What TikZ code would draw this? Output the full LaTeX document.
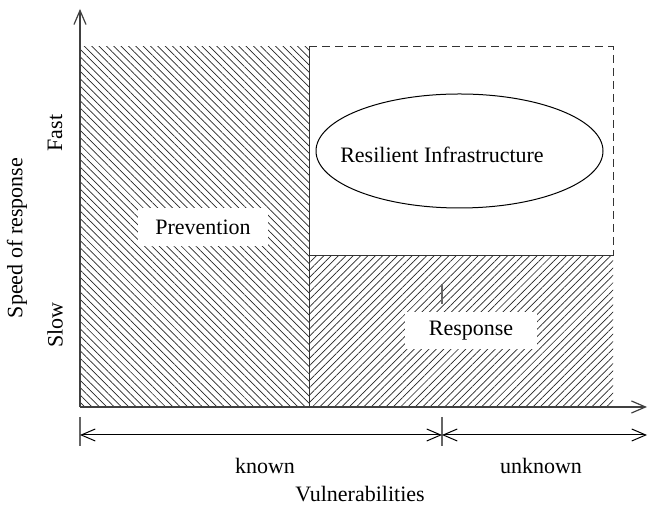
\documentclass[tikz,border=0pt]{standalone}
\usepackage{fontspec}
\setmainfont{Liberation Serif}
\usetikzlibrary{patterns.meta,arrows.meta,shapes.geometric}
\begin{document}
\begin{tikzpicture}[x=0.5pt,y=-0.5pt,
  font=\fontsize{11}{13}\selectfont,
  tip/.style={{Straight Barb[length=7pt,width=6pt]}},
  axis/.style={line width=0.6pt, draw=black!75, -{Straight Barb[length=7pt,width=6pt]}},
  dimline/.style={line width=0.5pt, {Straight Barb[length=7pt,width=6pt]}-{Straight Barb[length=7pt,width=6pt]}},
  tick/.style={line width=0.6pt, draw=black!60},
  edge/.style={line width=0.5pt, draw=black!80},
  hatchnw/.style={pattern={Lines[angle=-45,distance=2.6pt,line width=0.35pt]}, pattern color=black!85},
  hatchne/.style={pattern={Lines[angle=45,distance=2.6pt,line width=0.35pt]}, pattern color=black!85},
  labelbox/.style={fill=white, inner sep=0pt},
  lbl/.style={inner sep=0pt}]
\useasboundingbox (0,0) rectangle (648,506);
% regions
\fill[hatchnw] (80,47) rectangle (309,407);
\fill[hatchne] (309,256) rectangle (613,407);
\coordinate (TL) at (309,47);
\coordinate (TR) at (613,47);
\coordinate (MR) at (613,256);
\coordinate (ML) at (309,256);
\coordinate (BL) at (309,407);
\draw[edge, dash pattern=on 4pt off 2.5pt] (TL) -- (TR) -- (MR);
\draw[edge] (MR) -- (ML);
\draw[edge] (TL) -- (BL);
% small tick in response area
\coordinate (st1) at (442,284);
\coordinate (st2) at (442,304);
\draw[tick] (st1) -- (st2);
% axes
\coordinate (O) at (80,407);
\coordinate (ytop) at (80,9);
\coordinate (xend) at (647,407);
\draw[axis] (O) -- (ytop);
\draw[axis] (O) -- (xend);
% ellipse
\node[ellipse, draw, line width=0.5pt, minimum width=143.5pt, minimum height=57pt, inner sep=0pt] (res) at (459.5,151) {};
\node[lbl] (restext) at (442,155) {Resilient Infrastructure};
% label boxes
\node[labelbox, minimum width=65pt, minimum height=19pt] (prev) at (203,227) {Prevention};
\node[labelbox, minimum width=66pt, minimum height=18.5pt] (resp) at (471,331) {Response};
% dimension lines
\coordinate (k1t) at (80,417);
\coordinate (k1b) at (80,446);
\coordinate (k2t) at (442,417);
\coordinate (k2b) at (442,446);
\coordinate (d0) at (80,435);
\coordinate (d1) at (442,435);
\coordinate (d2) at (647,435);
\draw[tick] (k1t) -- (k1b);
\draw[tick] (k2t) -- (k2b);
\draw[dimline] (d0) -- (d1);
\draw[dimline] (d1) -- (d2);
\node[lbl] (known) at (265,466) {known};
\node[lbl] (unknown) at (541,466) {unknown};
\node[lbl] (vuln) at (360,494) {Vulnerabilities};
% y labels
\node[lbl, rotate=90] (speed) at (17,238) {Speed of response};
\node[lbl, rotate=90] (fast) at (55,133) {Fast};
\node[lbl, rotate=90] (slow) at (55,325) {Slow};
\end{tikzpicture}
\end{document}
